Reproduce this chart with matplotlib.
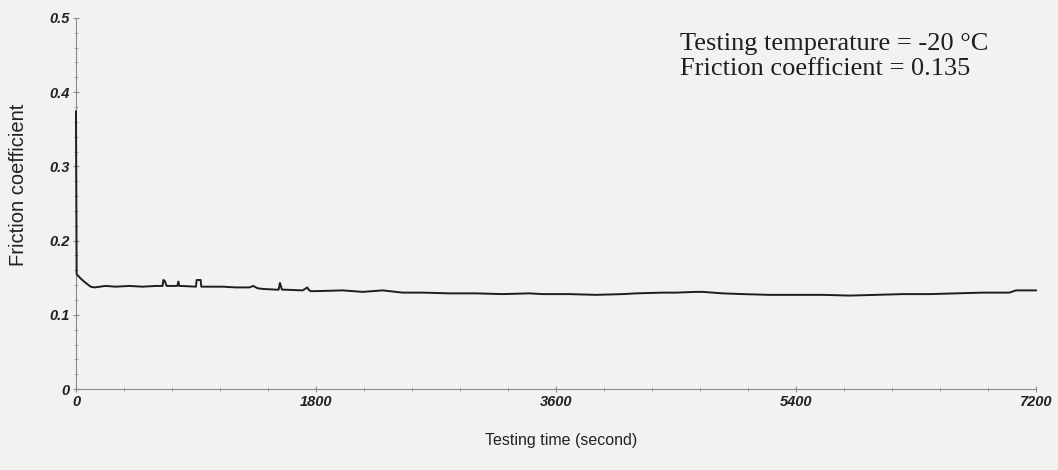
"""Friction coefficient vs testing time at -20 C."""

import matplotlib
import matplotlib.pyplot as plt
from matplotlib.ticker import MultipleLocator

matplotlib.use("Agg")

time_s = [0, 5, 30, 60, 110, 140, 220, 300, 400, 500, 600, 650, 655, 665, 680,
          690, 760, 768, 775, 790, 900, 905, 912, 935, 940, 950, 1100, 1200, 1300,
          1330, 1360, 1400, 1500, 1520, 1530, 1545, 1560, 1700, 1735, 1745, 1760,
          1800, 2000, 2150, 2300, 2450, 2600, 2800, 3000, 3200, 3400, 3500, 3700,
          3900, 4100, 4200, 4400, 4500, 4650, 4700, 4850, 5000, 5200, 5400, 5600,
          5800, 6000, 6200, 6400, 6600, 6800, 7000, 7050, 7200]
friction = [0.374, 0.155, 0.150, 0.145, 0.138, 0.137, 0.139, 0.138, 0.139, 0.138,
            0.139, 0.139, 0.147, 0.146, 0.139, 0.139, 0.139, 0.145, 0.139, 0.139,
            0.138, 0.147, 0.147, 0.147, 0.138, 0.138, 0.138, 0.137, 0.137, 0.139,
            0.136, 0.135, 0.134, 0.134, 0.143, 0.134, 0.134, 0.133, 0.137, 0.134,
            0.132, 0.132, 0.133, 0.131, 0.133, 0.130, 0.130, 0.129, 0.129, 0.128,
            0.129, 0.128, 0.128, 0.127, 0.128, 0.129, 0.130, 0.130, 0.131, 0.131,
            0.129, 0.128, 0.127, 0.127, 0.127, 0.126, 0.127, 0.128, 0.128, 0.129,
            0.130, 0.130, 0.133, 0.133]

x_ticks = [0, 1800, 3600, 5400, 7200]
x_tick_labels = ["0", "1800", "3600", "5400", "7200"]
y_ticks = [0, 0.1, 0.2, 0.3, 0.4, 0.5]
y_tick_labels = ["0", "0.1", "0.2", "0.3", "0.4", "0.5"]

BG = "#f2f2f0"
INK = "#1e1e1e"

fig = plt.figure(figsize=(10.58, 4.70), dpi=100, facecolor=BG)
ax = fig.add_axes([0.0718, 0.172, 0.9074, 0.79])
ax.set_facecolor(BG)

ax.plot(time_s, friction, color=INK, linewidth=1.4, clip_on=False, zorder=3)

ax.set_xlim(0, 7200)
ax.set_ylim(0, 0.5)
for side in ("top", "right"):
    ax.spines[side].set_visible(False)
for side in ("left", "bottom"):
    ax.spines[side].set_color("#8a8a8a")
    ax.spines[side].set_linewidth(0.8)

ax.set_xticks(x_ticks)
ax.set_xticklabels(x_tick_labels, fontstyle="italic", fontweight="bold",
                   fontsize=10.5, family="Liberation Sans", color="#222222")
ax.set_yticks(y_ticks)
ax.set_yticklabels(y_tick_labels, fontstyle="italic", fontweight="bold",
                   fontsize=10.5, family="Liberation Sans", color="#222222")
ax.yaxis.set_minor_locator(MultipleLocator(0.02))
ax.xaxis.set_minor_locator(MultipleLocator(360))
ax.tick_params(axis="both", which="major", direction="inout", length=5,
               width=0.8, color="#8a8a8a", pad=2)
ax.tick_params(axis="both", which="minor", direction="inout", length=3,
               width=0.6, color="#9a9a9a")

# axis titles placed in figure pixels to match the scan
fig.text(561 / 1058, 1 - 440 / 470, "Testing time (second)", ha="center",
         va="center", fontsize=11.5, family="Liberation Sans", color="#222222")
fig.text(19 / 1058, 1 - 185 / 470, "Friction coefficient", ha="center",
         va="center", rotation=90, fontsize=14.5, family="Liberation Sans",
         color="#222222")

fig.text(680 / 1058, 1 - 50 / 470, "Testing temperature = -20 \u00b0C",
         ha="left", va="baseline", fontsize=19, family="Liberation Serif",
         color=INK)
fig.text(680 / 1058, 1 - 75 / 470, "Friction coefficient = 0.135",
         ha="left", va="baseline", fontsize=19, family="Liberation Serif",
         color=INK)

fig.savefig("out.png", dpi=100, facecolor=fig.get_facecolor())
plt.close(fig)
